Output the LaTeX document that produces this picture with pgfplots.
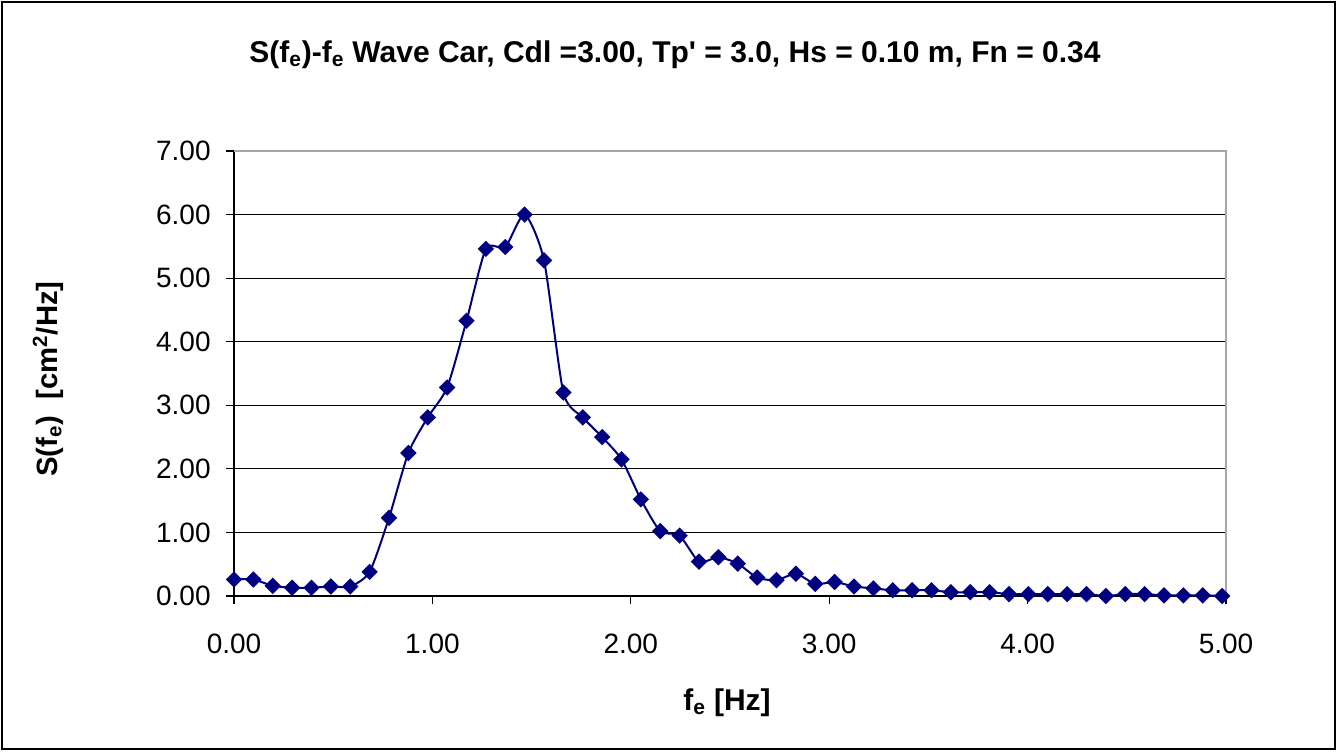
\documentclass[border=0pt]{standalone}
\usepackage{fontspec}
\setmainfont{Liberation Sans}
\usepackage{pgfplots}
\pgfplotsset{compat=1.18}
\usepackage{pgfplotstable}
\definecolor{navy}{RGB}{0,0,128}
\pgfplotstableread{
x y
0.0000 0.26
0.0977 0.26
0.1953 0.16
0.2930 0.13
0.3906 0.13
0.4883 0.15
0.5859 0.15
0.6836 0.38
0.7813 1.23
0.8789 2.25
0.9766 2.81
1.0742 3.28
1.1719 4.33
1.2695 5.46
1.3672 5.49
1.4648 6.00
1.5625 5.28
1.6602 3.20
1.7578 2.81
1.8555 2.50
1.9531 2.15
2.0508 1.52
2.1484 1.02
2.2461 0.95
2.3438 0.54
2.4414 0.61
2.5391 0.51
2.6367 0.29
2.7344 0.25
2.8320 0.35
2.9297 0.19
3.0273 0.22
3.1250 0.15
3.2227 0.12
3.3203 0.09
3.4180 0.09
3.5156 0.09
3.6133 0.06
3.7109 0.06
3.8086 0.06
3.9063 0.03
4.0039 0.03
4.1016 0.03
4.1992 0.03
4.2969 0.03
4.3945 0.00
4.4922 0.03
4.5898 0.03
4.6875 0.01
4.7852 0.01
4.8828 0.01
4.9805 0.00
}\spectrum
\begin{document}
\begin{tikzpicture}[x=0.75pt,y=0.75pt]
\path[use as bounding box] (0,0) rectangle (1337,751);
\draw[black, line width=0.9pt] (2,2) rectangle (1335,749);
\begin{axis}[
  at={(175.5pt,116.25pt)}, anchor=south west,
  scale only axis, width=744pt, height=333.75pt,
  xmin=0, xmax=5, ymin=0, ymax=7,
  axis x line*=bottom, axis y line*=left,
  axis line style={black, line width=0.8pt, -},
  xtick={0,1,2,3,4,5}, ytick={0,1,2,3,4,5,6,7},
  tick align=outside, major tick length=6pt,
  tick style={black, line width=0.8pt},
  ymajorgrids, grid style={black, line width=0.6pt},
  /pgf/number format/assume math mode=true,
  /pgf/number format/.cd, fixed, fixed zerofill, precision=2, /pgfplots/.cd,
  ticklabel style={font=\fontsize{21}{24}\selectfont},
  xticklabel style={yshift=-19pt},
  yticklabel style={xshift=-8pt},
  clip=false,
]
\draw[gray!70, line width=0.8pt] (rel axis cs:0,1) -- (rel axis cs:1,1) -- (rel axis cs:1,0);
\addplot[navy, line width=1.5pt, smooth, tension=0.4, mark=square*, mark size=3.6pt,
  mark options={rotate=45, solid, fill=navy, draw=navy}] table[x=x,y=y] {\spectrum};
\end{axis}
\node[font=\bfseries\fontsize{22.5}{26}\selectfont] at (675,696) {S(f\textsubscript{e})-f\textsubscript{e} Wave Car, Cdl =3.00, Tp\textquotesingle{} = 3.0, Hs = 0.10 m, Fn = 0.34};
\node[font=\bfseries\fontsize{22.5}{26}\selectfont] at (727,48) {f\textsubscript{e} [Hz]};
\node[font=\bfseries\fontsize{22}{26}\selectfont, rotate=90] at (48,372) {S(f\textsubscript{e})\ \ [cm\textsuperscript{2}/Hz]};
\end{tikzpicture}
\end{document}
